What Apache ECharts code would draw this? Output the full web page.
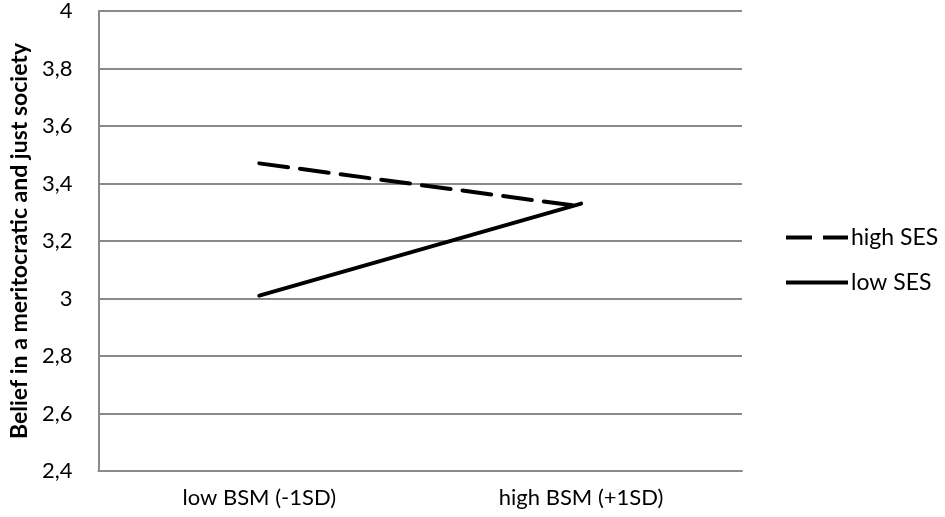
<!DOCTYPE html>
<html><head><meta charset="utf-8">
<script src="https://cdn.jsdelivr.net/npm/echarts@6/dist/echarts.min.js"></script>
<style>html,body{margin:0;padding:0;background:#fff}#c{width:945px;height:517px}</style>
</head><body><div id="c"></div>
<script>
var categories = ['low BSM (-1SD)', 'high BSM (+1SD)'];
var highSES = [3.47, 3.32];
var lowSES = [3.01, 3.33];
var yTicks = ['2,4','2,6','2,8','3','3,2','3,4','3,6','3,8','4'];
var seriesNames = ['high SES', 'low SES'];
var yAxisName = 'Belief in a meritocratic and just society';

var FONT = 'Lato';
var ICON_DASH = 'path://M0,0 L26,0 L26,4 L0,4 Z M37,0 L62,0 L62,4 L37,4 Z';
var ICON_SOLID = 'path://M0,0 L62,0 L62,4 L0,4 Z';
var chart = echarts.init(document.getElementById('c'), null, {renderer: 'canvas'});
chart.setOption({
  animation: false,
  backgroundColor: '#fff',
  grid: {left: 89, right: 203, top: 10, bottom: 46, containLabel: false},
  legend: {
    orient: 'vertical', left: 781, top: 221, itemWidth: 62, itemHeight: 4, itemGap: 22,
    textStyle: {fontFamily: FONT, fontSize: 23, color: '#000', padding: [0,0,0,-2]},
    itemStyle: {color: '#000', borderWidth: 0},
    data: [
      {name: seriesNames[0], icon: ICON_DASH},
      {name: seriesNames[1], icon: ICON_SOLID}
    ]
  },
  xAxis: {
    type: 'category', data: categories, boundaryGap: true,
    axisLine: {lineStyle: {color: '#8a8a8a', width: 2}},
    axisTick: {show: false},
    axisLabel: {fontFamily: FONT, fontSize: 22, color: '#000', margin: 16}
  },
  yAxis: {
    type: 'value', min: 2.4, max: 4, interval: 0.2,
    name: yAxisName, nameLocation: 'middle', nameGap: 67,
    nameTextStyle: {fontFamily: FONT, fontSize: 23, fontWeight: 'bold', color: '#000'},
    axisLine: {show: true, lineStyle: {color: '#8a8a8a', width: 2}},
    axisTick: {show: false},
    splitLine: {lineStyle: {color: '#8a8a8a', width: 2}},
    axisLabel: {fontFamily: FONT, fontSize: 22, color: '#000', margin: 26,
      formatter: function(v){ var i = Math.round((v-2.4)/0.2); return yTicks[i]; }}
  },
  series: [
    {name: seriesNames[0], type: 'line', data: highSES, symbol: 'none',
     lineStyle: {color: '#000', width: 4, type: [29, 12], cap: 'round'}, itemStyle: {color: '#000'}},
    {name: seriesNames[1], type: 'line', data: lowSES, symbol: 'none',
     lineStyle: {color: '#000', width: 4, type: 'solid', cap: 'round'}, itemStyle: {color: '#000'}}
  ]
});
</script></body></html>
